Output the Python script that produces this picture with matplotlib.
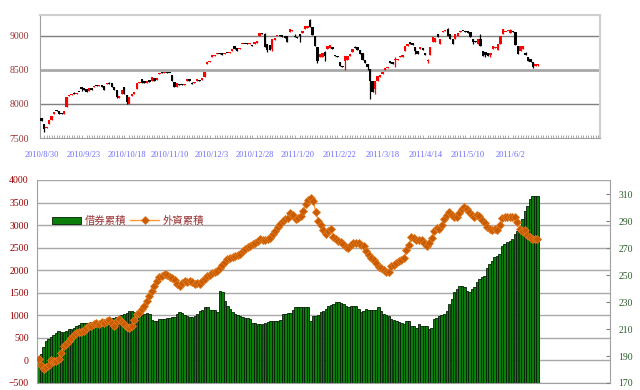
import matplotlib
matplotlib.use('Agg')
import matplotlib.pyplot as plt
import numpy as np

# 字型: 數字用襯線字, 中文用 Noto Sans CJK TC
plt.rcParams['font.family'] = ['Liberation Serif', 'Noto Sans CJK TC', 'DejaVu Sans']

# ---- 加權指數 K 線 (2010/8/30 起) ----
opens = [7790, 7700, 7640, 7700, 7770, 7850, 7905, 7890, 7870, 7850,
         7960, 8110, 8125, 8165, 8145, 8180, 8245, 8230, 8210, 8190,
         8230, 8245, 8270, 8255, 8275, 8255, 8285, 8310, 8300, 8240,
         8200, 8090, 8150, 8250, 8130, 8000, 8110, 8150, 8220, 8300,
         8360, 8340, 8305, 8345, 8335, 8380, 8350, 8440, 8460, 8445,
         8465, 8455, 8415, 8320, 8250, 8290, 8285, 8270, 8330, 8360,
         8300, 8300, 8340, 8345, 8350, 8400, 8590, 8615, 8690, 8705,
         8730, 8745, 8740, 8735, 8750, 8740, 8780, 8850, 8810, 8800,
         8870, 8880, 8890, 8875, 8860, 8880, 8890, 9000, 9040, 9020,
         8880, 8860, 8800, 8940, 8990, 9010, 9000, 9000, 8995, 9050,
         9060, 9000, 8975, 9025, 9030, 9100, 9110, 9220, 9120, 9000,
         8830, 8680, 8690, 8760, 8800, 8810, 8830, 8720, 8700, 8610,
         8560, 8630, 8640, 8700, 8760, 8820, 8830, 8790, 8750, 8640,
         8590, 8510, 8330, 8220, 8340, 8400, 8440, 8500, 8520, 8620,
         8610, 8640, 8640, 8680, 8690, 8780, 8850, 8900, 8895, 8830,
         8780, 8800, 8820, 8750, 8620, 8710, 8900, 8910, 9025, 8880,
         9050, 9060, 9100, 9020, 8950, 8950, 9000, 9050, 9065, 9070,
         9070, 9050, 8950, 8920, 8880, 8950, 8780, 8760, 8740, 8720,
         8800, 8810, 8790, 8880, 9025, 9050, 9060, 9040, 9060, 9050,
         8850, 8780, 8800, 8750, 8680, 8660, 8610, 8560, 8565]
closes = [7745, 7625, 7665, 7765, 7815, 7880, 7895, 7855, 7845, 7890,
          8100, 8135, 8150, 8140, 8165, 8170, 8220, 8205, 8180, 8225,
          8205, 8260, 8255, 8270, 8250, 8205, 8300, 8290, 8240, 8200,
          8100, 8110, 8205, 8140, 8020, 8100, 8140, 8175, 8300, 8315,
          8310, 8300, 8340, 8320, 8390, 8340, 8385, 8455, 8450, 8460,
          8450, 8445, 8330, 8250, 8305, 8270, 8275, 8295, 8365, 8340,
          8285, 8320, 8360, 8340, 8375, 8470, 8610, 8630, 8710, 8720,
          8740, 8735, 8720, 8745, 8740, 8760, 8800, 8800, 8780, 8820,
          8880, 8870, 8875, 8890, 8850, 8905, 8920, 9040, 9020, 8830,
          8790, 8790, 8950, 8970, 9000, 8990, 8985, 8960, 8900, 9100,
          9080, 8980, 8960, 9000, 9070, 9140, 9140, 9130, 9010, 8850,
          8620, 8730, 8740, 8700, 8850, 8860, 8800, 8700, 8690, 8550,
          8540, 8700, 8700, 8730, 8800, 8810, 8790, 8730, 8640, 8600,
          8540, 8330, 8180, 8340, 8410, 8420, 8460, 8530, 8545, 8600,
          8590, 8660, 8655, 8700, 8710, 8850, 8870, 8880, 8860, 8780,
          8730, 8830, 8790, 8710, 8630, 8830, 8975, 8960, 8975, 8950,
          9070, 9075, 9000, 8950, 8880, 9020, 9030, 9070, 9060, 9050,
          9040, 8975, 8900, 8910, 8950, 8850, 8700, 8720, 8705, 8740,
          8850, 8830, 8880, 9000, 9100, 9050, 9070, 9075, 9050, 8860,
          8730, 8840, 8850, 8710, 8620, 8610, 8545, 8580, 8590]
# 看得出來的影線 (最高 / 最低)
highs = {0: 7800, 13: 8180, 27: 8320, 60: 8320, 89: 9040, 101: 9020,
         107: 9235, 113: 8780, 125: 8840, 141: 8680, 154: 8660, 162: 9110,
         175: 9020, 187: 9090, 193: 8760}
lows = {1: 7585, 16: 8195, 30: 8080, 34: 7995, 90: 8760, 92: 8780,
        103: 8900, 110: 8600, 113: 8620, 121: 8490, 130: 8500, 131: 8070,
        133: 8145, 141: 8540, 149: 8730, 154: 8600, 172: 8880, 177: 8690,
        179: 8680, 196: 8530, 198: 8550}

date_labels = ['2010/8/30', '2010/9/23', '2010/10/18', '2010/11/10', '2010/12/3',
               '2010/12/28', '2011/1/20', '2011/2/22', '2011/3/18', '2011/4/14',
               '2011/5/10', '2011/6/2']
label_step = 17

# ---- 借券累積 / 外資累積 ----
lend_cum = [100, 140, 300, 430, 470, 520, 570, 610, 660, 620,
            640, 660, 690, 700, 720, 760, 780, 840, 830, 825,
            840, 850, 865, 870, 875, 880, 860, 820, 880, 940,
            950, 955, 970, 1000, 1020, 1060, 1085, 1090, 1065, 1020,
            990, 1010, 1040, 1045, 1030, 900, 880, 880, 910, 915,
            915, 930, 950, 955, 960, 1030, 1065, 1060, 1010, 975,
            955, 960, 990, 1025, 1100, 1110, 1180, 1190, 1120, 1115,
            1110, 1065, 1540, 1520, 1320, 1210, 1140, 1065, 1030, 1000,
            980, 960, 950, 940, 915, 830, 820, 810, 805, 815,
            840, 860, 880, 880, 880, 880, 890, 1030, 1040, 1050,
            1060, 1120, 1190, 1195, 1180, 1175, 1175, 1175, 880, 990,
            990, 1010, 1065, 1100, 1140, 1210, 1240, 1260, 1285, 1285,
            1270, 1250, 1200, 1175, 1200, 1210, 1210, 1150, 1065, 1100,
            1140, 1120, 1110, 1110, 1110, 1175, 1100, 1025, 1000, 990,
            915, 900, 880, 845, 830, 810, 880, 880, 770, 770,
            730, 810, 770, 770, 770, 695, 720, 915, 950, 990,
            1010, 1025, 1100, 1250, 1360, 1510, 1580, 1655, 1640, 1620,
            1550, 1510, 1580, 1620, 1730, 1800, 1840, 1880, 2060, 2140,
            2210, 2285, 2320, 2360, 2540, 2580, 2620, 2650, 2690, 2800,
            2875, 2950, 3135, 3320, 3430, 3580, 3640, 3650, 3640]
foreign_cum = [30, -100, -180, -150, -110, 0, -10, -20, 30, 170,
               310, 370, 440, 500, 560, 610, 640, 630, 660, 720,
               760, 760, 800, 830, 800, 860, 820, 870, 890, 820,
               770, 870, 910, 860, 810, 750, 730, 760, 900, 1020,
               1060, 1130, 1210, 1320, 1430, 1540, 1650, 1760, 1840, 1870,
               1910, 1900, 1860, 1820, 1790, 1690, 1660, 1710, 1750, 1730,
               1760, 1740, 1690, 1710, 1700, 1760, 1800, 1870, 1900, 1930,
               1950, 1990, 2040, 2110, 2190, 2240, 2270, 2285, 2310, 2340,
               2370, 2420, 2470, 2510, 2540, 2575, 2610, 2650, 2690, 2680,
               2660, 2690, 2720, 2800, 2880, 2950, 3030, 3090, 3130, 3160,
               3260, 3230, 3140, 3160, 3200, 3320, 3460, 3550, 3600, 3530,
               3300, 3100, 3000, 2900, 2810, 2860, 2910, 2740, 2690, 2650,
               2620, 2590, 2520, 2490, 2550, 2610, 2610, 2600, 2560, 2540,
               2420, 2330, 2280, 2230, 2150, 2080, 2040, 2000, 1970, 1970,
               2090, 2120, 2170, 2200, 2230, 2260, 2440, 2550, 2740, 2720,
               2680, 2670, 2660, 2610, 2530, 2600, 2720, 2880, 2930, 2920,
               3000, 3140, 3230, 3280, 3220, 3170, 3190, 3270, 3350, 3410,
               3360, 3290, 3230, 3190, 3230, 3200, 3110, 3050, 2960, 2920,
               2890, 2910, 2890, 3010, 3160, 3180, 3190, 3190, 3190, 3170,
               3080, 2920, 2860, 2890, 2780, 2730, 2700, 2690, 2690]
right_ticks = [170, 190, 210, 230, 250, 270, 290, 310]

fig = plt.figure(figsize=(6.4, 3.9), dpi=100)

# ================= 上圖: K 線 =================
ax1 = fig.add_axes([40 / 640, 1 - 138 / 390, 560 / 640, 123 / 390])
x = np.arange(len(closes))
o = np.array(opens)
c = np.array(closes)
up = c >= o
colors = np.where(up, '#ff0000', '#000000')
hi = np.array([highs.get(i, max(opens[i], closes[i])) for i in x])
lo = np.array([lows.get(i, min(opens[i], closes[i])) for i in x])
ax1.vlines(x, lo, hi, colors=colors, linewidth=0.9, zorder=3)
body = np.maximum(np.abs(c - o), 16)
ax1.bar(x, body, bottom=np.minimum(o, c), width=0.95, color=colors,
        linewidth=0, zorder=4)

for lvl, col, lw in [(8000, '#7f7f7f', 1.0), (8500, '#a8a8a8', 2.0), (9000, '#7f7f7f', 1.0)]:
    ax1.axhline(lvl, color=col, linewidth=lw, zorder=1)

ax1.set_xlim(-0.6, 222.7)
ax1.set_ylim(7500, 9300)
ax1.set_yticks([7500, 8000, 8500, 9000])
ax1.set_yticklabels(['7500', '8000', '8500', '9000'])
ax1.set_xticks(np.arange(len(date_labels)) * label_step)
ax1.set_xticklabels(date_labels)
ax1.set_xticks(np.arange(0, 223), minor=True)
ax1.tick_params(axis='y', length=0, pad=8, labelsize=7, labelcolor='#993333')
ax1.tick_params(axis='x', which='major', length=0, pad=9, labelsize=6, labelcolor='#6b6bff')
ax1.tick_params(axis='x', which='minor', length=2, width=0.6, color='#9a9a9a', direction='in')
for s in ['top', 'right']:
    ax1.spines[s].set_color('#cfcfcf')
    ax1.spines[s].set_linestyle((0, (1, 1)))
    ax1.spines[s].set_linewidth(1.5)
ax1.spines['left'].set_color('#a0a0a0')
ax1.spines['bottom'].set_color('#a0a0a0')

# ================= 下圖: 借券 / 外資 =================
ax2 = fig.add_axes([37 / 640, 1 - 383 / 390, 573 / 640, 203 / 390])
xb = np.arange(len(lend_cum))
bars = ax2.bar(xb, np.array(lend_cum) + 500, bottom=-500, width=0.95, color='#0b7d0b',
               edgecolor='#041f04', linewidth=0.6, zorder=2)
line, = ax2.plot(np.arange(len(foreign_cum)), foreign_cum, color='#ff9933', linewidth=1,
                 marker='D', markersize=3.8, markerfacecolor='#c85a00',
                 markeredgecolor='#e07a20', markeredgewidth=0.6, zorder=3)
ax2.set_xlim(-0.6, 226.8)
ax2.set_ylim(-500, 4000)
ax2.set_yticks(np.arange(-500, 4001, 500))
ax2.yaxis.grid(True, color='#a8a8a8', linewidth=1)
ax2.set_axisbelow(True)
ax2.set_xticks([])
ax2.tick_params(axis='y', length=0, pad=6, labelsize=7, labelcolor='#990000')
for s in ['top', 'right']:
    ax2.spines[s].set_visible(False)
ax2.spines['left'].set_color('#a0a0a0')
ax2.spines['bottom'].set_color('#a0a0a0')

ax2r = ax2.twinx()
ax2r.set_ylim(170, 320.4)
ax2r.set_yticks(right_ticks)
ax2r.tick_params(axis='y', length=3, direction='in', color='#808080', pad=6,
                 labelsize=7, labelcolor='#2d5f2d')
for s in ['top', 'left', 'bottom']:
    ax2r.spines[s].set_visible(False)
ax2r.spines['right'].set_color('#a0a0a0')

leg = ax2r.legend([bars, line], ['借券累積', '外資累積'], loc='upper left',
                  bbox_to_anchor=(0.01, 0.87), ncol=2, frameon=False,
                  handlelength=2.8, handleheight=0.6, columnspacing=0.4, handletextpad=0.3,
                  prop={'family': ['Noto Sans CJK TC'], 'size': 7.5})
for t in leg.get_texts():
    t.set_color('#993333')

fig.savefig('out.png', dpi=100, facecolor='white')
